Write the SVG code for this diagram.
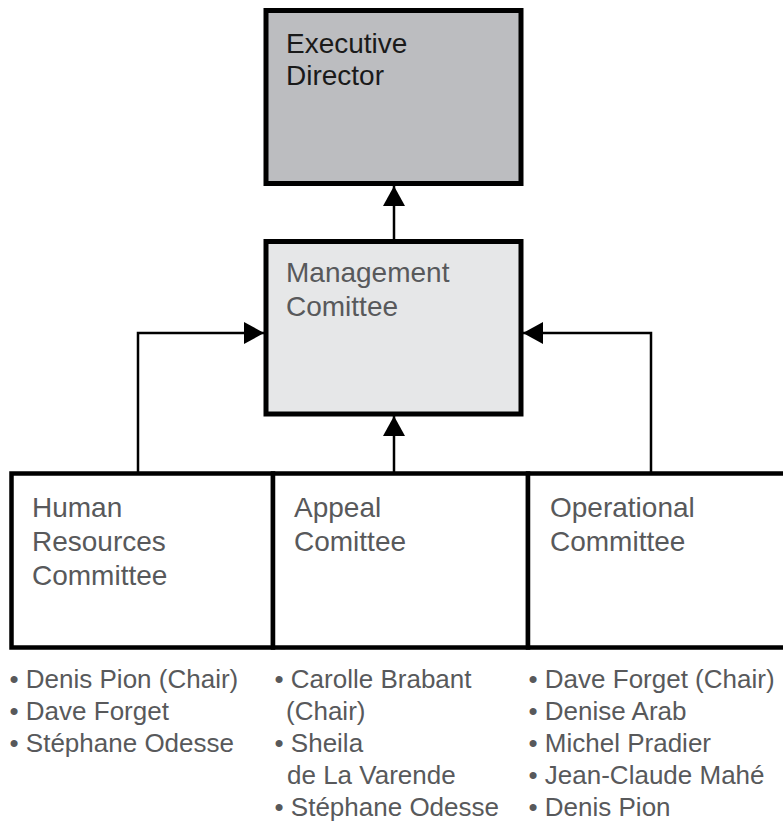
<svg xmlns="http://www.w3.org/2000/svg" width="783" height="822" viewBox="0 0 783 822">
<defs>
<style>
.box{stroke:#000;stroke-width:5;}
.sub{fill:#fff;stroke:#000;stroke-width:4.5;}
.title{font-family:"Liberation Sans",Arial,sans-serif;font-size:28px;fill:#58595b;}
.dark{fill:#1a1a1a;}
.item{font-family:"Liberation Sans",Arial,sans-serif;font-size:26px;fill:#58595b;}
.conn{fill:none;stroke:#000;stroke-width:2.5;}
</style>
<marker id="arr" markerUnits="userSpaceOnUse" markerWidth="20" markerHeight="22" refX="20" refY="11" orient="auto" viewBox="0 0 20 22">
<path d="M0,0 L20,11 L0,22 z" fill="#000"/>
</marker>
</defs>
<rect width="783" height="822" fill="#fff"/>
<g id="connectors">
<path class="conn" d="M394,239 V186" marker-end="url(#arr)"/>
<path class="conn" d="M394,472 V416" marker-end="url(#arr)"/>
<path class="conn" d="M138,472 V333 H264" marker-end="url(#arr)"/>
<path class="conn" d="M651,472 V333 H523" marker-end="url(#arr)"/>
</g>
<g id="executive-director">
<rect class="box" x="266" y="10.5" width="255" height="173" fill="#bcbdc0"/>
<text class="title dark" x="286" y="53">Executive</text>
<text class="title dark" x="286" y="85">Director</text>
</g>
<g id="management-comittee">
<rect class="box" x="266" y="241.5" width="255" height="172.5" fill="#e6e7e8"/>
<text class="title" x="286" y="282">Management</text>
<text class="title" x="286" y="316">Comittee</text>
</g>
<g id="hr-committee">
<rect class="sub" x="11.5" y="473.5" width="261.5" height="174"/>
<text class="title" x="32" y="517">Human</text>
<text class="title" x="32" y="551">Resources</text>
<text class="title" x="32" y="585">Committee</text>
</g>
<g id="appeal-comittee">
<rect class="sub" x="273" y="473.5" width="255" height="174"/>
<text class="title" x="294" y="517">Appeal</text>
<text class="title" x="294" y="551">Comittee</text>
</g>
<g id="operational-committee">
<rect class="sub" x="528" y="473.5" width="272" height="174"/>
<text class="title" x="550" y="517">Operational</text>
<text class="title" x="550" y="551">Committee</text>
</g>
<g id="hr-members">
<text class="item" x="9.5" y="688">• Denis Pion (Chair)</text>
<text class="item" x="9.5" y="720">• Dave Forget</text>
<text class="item" x="9.5" y="752">• Stéphane Odesse</text>
</g>
<g id="appeal-members">
<text class="item" x="274.5" y="688">• Carolle Brabant</text>
<text class="item" x="286" y="720">(Chair)</text>
<text class="item" x="274.5" y="752">• Sheila</text>
<text class="item" x="287" y="784">de La Varende</text>
<text class="item" x="274.5" y="815.5">• Stéphane Odesse</text>
</g>
<g id="operational-members">
<text class="item" x="528.5" y="688">• Dave Forget (Chair)</text>
<text class="item" x="528.5" y="720">• Denise Arab</text>
<text class="item" x="528.5" y="752">• Michel Pradier</text>
<text class="item" x="528.5" y="784">• Jean-Claude Mahé</text>
<text class="item" x="528.5" y="815.5">• Denis Pion</text>
</g>
</svg>
